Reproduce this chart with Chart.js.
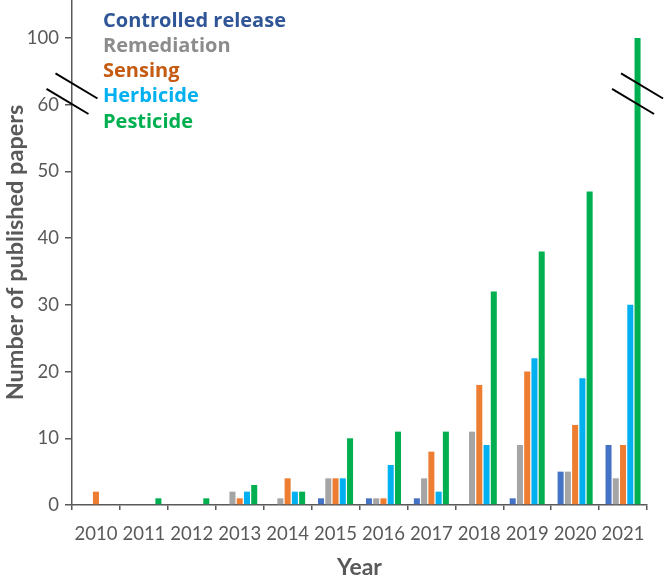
<!DOCTYPE html>
<html>
<head>
<meta charset="utf-8">
<script src="https://cdn.jsdelivr.net/npm/chart.js@4.4.1/dist/chart.umd.min.js"></script>
<style>
  html, body { margin: 0; padding: 0; background: #ffffff; }
  #wrap { width: 666px; height: 579px; position: relative; }
</style>
</head>
<body>
<div id="wrap"><canvas id="c" width="666" height="579"></canvas></div>
<script>
// ---- data ----
const years = ['2010','2011','2012','2013','2014','2015','2016','2017','2018','2019','2020','2021'];
const controlledRelease = [0,0,0,0,0,1,1,1,0,1,5,9];
const remediation       = [0,0,0,2,1,4,1,4,11,9,5,4];
const sensing           = [2,0,0,1,4,4,1,8,18,20,12,9];
const herbicide         = [0,0,0,2,2,4,6,2,9,22,19,30];
const pesticide         = [0,1,1,3,2,10,11,11,32,38,47,100];
const seriesNames = ['Controlled release','Remediation','Sensing','Herbicide','Pesticide'];
const yTicks = [0,10,20,30,40,50,60,100];

// broken axis: values above 60 are compressed (60..100 -> 60..70)
const BREAK_LOW = 60, BREAK_HIGH = 100, BREAK_SPAN = 10;
function toAxis(v){ return v <= BREAK_LOW ? v : BREAK_LOW + (v - BREAK_LOW) * BREAK_SPAN / (BREAK_HIGH - BREAK_LOW); }
function fromAxis(a){ return a <= BREAK_LOW ? a : BREAK_LOW + (a - BREAK_LOW) * (BREAK_HIGH - BREAK_LOW) / BREAK_SPAN; }

const barColors = ['#4472C4','#A5A5A5','#ED7D31','#00B0F0','#00B050'];
const legendColors = ['#2F5597','#8C8C8C','#C55A11','#00B0F0','#00B050'];
const allSeries = [controlledRelease, remediation, sensing, herbicide, pesticide];

const axisGrey = '#595959';
const FONT = 'Lato, "Open Sans", sans-serif';
const LEGEND_FONT = '"Open Sans", Lato, sans-serif';

const breakPlugin = {
  id: 'breaks',
  afterDraw(chart){
    const ctx = chart.ctx;
    const y = chart.scales.y;
    const yA = y.getPixelForValue(63.2);
    const yB = y.getPixelForValue(60.2);
    const drawPair = (cx) => {
      ctx.save();
      ctx.strokeStyle = '#000';
      ctx.lineWidth = 2;
      const dx = 21, dy = 12.6;
      [[cx + 4.5, yA + 2.5], [cx - 4.5, yB - 2]].forEach(([x0,y0]) => {
        ctx.beginPath();
        ctx.moveTo(x0 - dx, y0 - dy);
        ctx.lineTo(x0 + dx, y0 + dy);
        ctx.stroke();
      });
      ctx.restore();
    };
    drawPair(chart.chartArea.left);
    const meta = chart.getDatasetMeta(4);
    pesticide.forEach((v,i) => { if (v > BREAK_LOW) drawPair(meta.data[i].x); });

    // legend text
    ctx.save();
    ctx.font = 'bold 20px ' + LEGEND_FONT;
    ctx.textAlign = 'left';
    ctx.textBaseline = 'alphabetic';
    seriesNames.forEach((n,i) => {
      ctx.fillStyle = legendColors[i];
      ctx.fillText(n, 103, 26.7 + i * 25.2);
    });
    ctx.restore();
  }
};

new Chart(document.getElementById('c'), {
  type: 'bar',
  data: {
    labels: years,
    datasets: seriesNames.map((n,i) => ({
      label: n,
      data: allSeries[i].map(toAxis),
      backgroundColor: barColors[i],
      borderWidth: 0,
      categoryPercentage: 0.757,
      barPercentage: 0.83
    }))
  },
  options: {
    responsive: false,
    animation: false,
    layout: { padding: { top: 0, right: 19, bottom: 0, left: 0 } },
    plugins: { legend: { display: false }, tooltip: { enabled: false } },
    scales: {
      x: {
        grid: { display: true, drawOnChartArea: false, drawTicks: true, tickLength: 5, color: axisGrey, lineWidth: 1.5, offset: true },
        border: { display: true, color: axisGrey, width: 1.5 },
        ticks: { color: axisGrey, font: { family: FONT, size: 18.5 }, padding: 13, maxRotation: 0, autoSkip: false },
        title: { display: true, text: 'Year', color: axisGrey, font: { family: FONT, size: 23, weight: 'bold' }, padding: { top: 0, bottom: -2 } },
        afterFit(s){ s.height = 74; s.paddingLeft = 0; s.paddingRight = 0; }
      },
      y: {
        min: 0,
        max: 75.7,
        grid: { display: true, drawOnChartArea: false, drawTicks: true, tickLength: 7, color: axisGrey, lineWidth: 1.5 },
        border: { display: true, color: axisGrey, width: 1.5 },
        ticks: {
          color: axisGrey, font: { family: FONT, size: 18.5 }, padding: 6, includeBounds: false,
          callback: (v) => String(Math.round(fromAxis(v)))
        },
        afterBuildTicks(s){ s.ticks = yTicks.map(v => ({ value: toAxis(v) })); },
        title: { display: true, text: 'Number of published papers', color: axisGrey, font: { family: FONT, size: 23.5, weight: 'bold' }, padding: { top: 1, bottom: 0 } },
        afterFit(s){ s.width = 72; s.paddingTop = 0; s.paddingBottom = 0; }
      }
    }
  },
  plugins: [breakPlugin]
});
</script>
</body>
</html>
